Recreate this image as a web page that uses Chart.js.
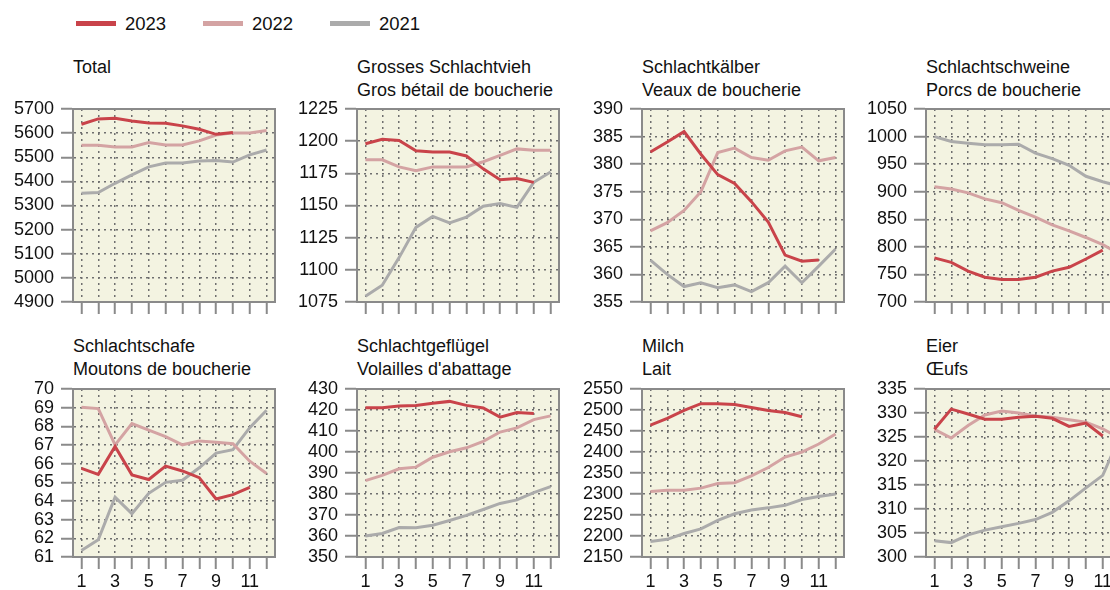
<!DOCTYPE html>
<html lang="de">
<head>
<meta charset="UTF-8">
<title>Schlachtvieh, Milch, Eier</title>
<script src="https://cdn.jsdelivr.net/npm/chart.js"></script>
<style>
  body {
    margin: 0;
    width: 1110px;
    height: 590px;
    overflow: hidden;
    position: relative;
    background: #fff;
    color: #111;
    font-family: "Liberation Sans", Arial, sans-serif;
  }
  .legend-item {
    position: absolute;
    top: 12px;
    height: 23px;
    display: flex;
    align-items: center;
    font-size: 18.5px;
  }
  .swatch {
    width: 40px;
    height: 5px;
    margin-right: 9px;
  }
  .title {
    position: absolute;
    font-size: 18px;
    line-height: 22.5px;
    white-space: nowrap;
  }
  canvas {
    position: absolute;
  }
</style>
</head>
<body>
<div class="legend-item" style="left:76px"><span class="swatch" style="background:#c9434a"></span>2023</div>
<div class="legend-item" style="left:203px"><span class="swatch" style="background:#d4a3a3"></span>2022</div>
<div class="legend-item" style="left:330px"><span class="swatch" style="background:#ababab"></span>2021</div>

<script>
  const months = ['1', '2', '3', '4', '5', '6', '7', '8', '9', '10', '11', '12'];
  const years = ['2023', '2022', '2021'];

  // Total
  const total2023 = [5637, 5659, 5662, 5650, 5642, 5641, 5630, 5616, 5595, 5603];
  const total2022 = [5550, 5550, 5543, 5543, 5561, 5551, 5551, 5568, 5592, 5601, 5601, 5611];
  const total2021 = [5351, 5354, 5392, 5427, 5460, 5476, 5476, 5484, 5487, 5480, 5510, 5530];
  const totalAxis = [4900, 5700, 100];

  // Grosses Schlachtvieh
  const gross2023 = [1198, 1201.5, 1200.5, 1192.5, 1191.5, 1191.5, 1188.5, 1178.5, 1170, 1171, 1168];
  const gross2022 = [1185.5, 1185.5, 1180, 1177, 1180, 1180, 1180, 1184, 1189, 1194, 1193, 1193];
  const gross2021 = [1079.5, 1088, 1109.5, 1133, 1141.5, 1136.5, 1141, 1149.5, 1151.5, 1148.5, 1168, 1176];
  const grossAxis = [1075, 1225, 25];

  // Schlachtkaelber
  const kalb2023 = [382.2, 384.0, 385.9, 381.8, 378.1, 376.5, 373.2, 369.5, 363.5, 362.4, 362.6];
  const kalb2022 = [367.9, 369.4, 371.6, 375.0, 382.1, 382.9, 381.2, 380.7, 382.4, 383.1, 380.6, 381.2];
  const kalb2021 = [362.6, 360.0, 357.8, 358.5, 357.6, 358.1, 356.9, 358.5, 361.5, 358.5, 361.5, 364.6];
  const kalbAxis = [355, 390, 5];

  // Schlachtschweine
  const schwein2023 = [780, 772, 756, 745, 741, 741, 745, 756, 763, 778, 794];
  const schwein2022 = [909, 905, 898, 887, 880, 866, 854, 840, 829, 817, 804, 787];
  const schwein2021 = [1000, 991, 988, 985, 985, 986, 970, 960, 948, 928, 918, 910];
  const schweinAxis = [700, 1050, 50];

  // Schlachtschafe
  const schaf2023 = [65.75, 65.43, 66.92, 65.40, 65.15, 65.87, 65.61, 65.25, 64.11, 64.34, 64.73];
  const schaf2022 = [69.02, 68.95, 67.01, 68.15, 67.80, 67.45, 67.01, 67.22, 67.15, 67.07, 66.13, 65.47];
  const schaf2021 = [61.35, 61.92, 64.2, 63.32, 64.41, 65.0, 65.11, 65.78, 66.57, 66.75, 67.93, 68.86];
  const schafAxis = [61, 70, 1];

  // Schlachtgefluegel
  const gefl2023 = [421.1, 421.1, 421.9, 422.2, 423.2, 424.1, 422.2, 421.0, 416.6, 418.8, 418.3];
  const gefl2022 = [386.4, 388.9, 392.0, 392.8, 397.5, 400.1, 402.0, 405.1, 409.5, 411.5, 415.4, 417.2];
  const gefl2021 = [360.0, 361.2, 364.0, 363.9, 365.1, 367.4, 369.8, 372.6, 375.5, 377.2, 380.7, 383.5];
  const geflAxis = [350, 430, 10];

  // Milch
  const milch2023 = [2464, 2480, 2499, 2515, 2515, 2513, 2506, 2499, 2494, 2484];
  const milch2022 = [2306, 2309, 2309, 2314, 2325, 2327, 2343, 2363, 2388, 2400, 2419, 2443];
  const milch2021 = [2187, 2192, 2206, 2217, 2237, 2253, 2262, 2267, 2273, 2287, 2294, 2300];
  const milchAxis = [2150, 2550, 50];

  // Eier
  const eier2023 = [326.6, 330.8, 329.8, 328.7, 328.7, 329.1, 329.3, 328.9, 327.2, 327.9, 325.2];
  const eier2022 = [326.6, 324.8, 327.4, 329.6, 330.4, 330.0, 329.4, 329.1, 328.6, 328.1, 326.7, 324.8];
  const eier2021 = [303.4, 303.0, 304.6, 305.6, 306.3, 307.0, 307.8, 309.3, 311.7, 314.4, 317.0, 325.0];
  const eierAxis = [300, 335, 5];

  const yearColors = ['#c9434a', '#d4a3a3', '#ababab'];
  const plotBg = '#f3f3e1';
  const frameColor = '#8a8a8a';
  const gridColor = '#6f6f6f';
  const fontFamily = '"Liberation Sans", Arial, sans-serif';

  const panels = [
    { title: ['Total'], series: [total2023, total2022, total2021], axis: totalAxis },
    { title: ['Grosses Schlachtvieh', 'Gros bétail de boucherie'], series: [gross2023, gross2022, gross2021], axis: grossAxis },
    { title: ['Schlachtkälber', 'Veaux de boucherie'], series: [kalb2023, kalb2022, kalb2021], axis: kalbAxis },
    { title: ['Schlachtschweine', 'Porcs de boucherie'], series: [schwein2023, schwein2022, schwein2021], axis: schweinAxis },
    { title: ['Schlachtschafe', 'Moutons de boucherie'], series: [schaf2023, schaf2022, schaf2021], axis: schafAxis },
    { title: ['Schlachtgeflügel', "Volailles d'abattage"], series: [gefl2023, gefl2022, gefl2021], axis: geflAxis },
    { title: ['Milch', 'Lait'], series: [milch2023, milch2022, milch2021], axis: milchAxis },
    { title: ['Eier', 'Œufs'], series: [eier2023, eier2022, eier2021], axis: eierAxis }
  ];

  // plot background and closed frame around the chart area
  const framePlugin = {
    id: 'frame',
    beforeDraw(chart) {
      const { ctx, chartArea: a } = chart;
      ctx.save();
      ctx.fillStyle = plotBg;
      ctx.fillRect(a.left, a.top, a.right - a.left, a.bottom - a.top);
      ctx.restore();
    },
    afterDraw(chart) {
      const { ctx, chartArea: a } = chart;
      ctx.save();
      ctx.strokeStyle = frameColor;
      ctx.lineWidth = 2;
      ctx.strokeRect(a.left, a.top, a.right - a.left, a.bottom - a.top);
      ctx.restore();
    }
  };

  const plotLefts = [73, 357, 642, 926];
  const plotWidth = 202;

  panels.forEach((p, i) => {
    const col = i % 4;
    const row = Math.floor(i / 4);
    const plotLeft = plotLefts[col];
    const plotTop = row === 0 ? 107 : 387;
    const plotH = row === 0 ? 197 : 170;
    const axisW = 72;
    const xAxisH = row === 0 ? 14 : 40;
    const padTop = 14;
    const padRight = 8;

    const title = document.createElement('div');
    title.className = 'title';
    title.style.left = plotLeft + 'px';
    title.style.top = (row === 0 ? 56 : 335) + 'px';
    title.innerHTML = p.title.join('<br>');
    document.body.appendChild(title);

    const canvas = document.createElement('canvas');
    canvas.width = axisW + plotWidth + padRight;
    canvas.height = padTop + plotH + xAxisH;
    canvas.style.left = (plotLeft - axisW) + 'px';
    canvas.style.top = (plotTop - padTop) + 'px';
    document.body.appendChild(canvas);

    new Chart(canvas, {
      type: 'line',
      data: {
        labels: months,
        datasets: p.series.map((values, k) => ({
          label: years[k],
          data: values,
          borderColor: yearColors[k],
          borderWidth: 3,
          pointRadius: 0,
          tension: 0,
          fill: false
        }))
      },
      options: {
        responsive: false,
        animation: false,
        devicePixelRatio: 1,
        layout: { padding: { top: padTop, right: padRight, left: 0, bottom: 0 } },
        plugins: {
          legend: { display: false },
          tooltip: { enabled: false }
        },
        scales: {
          x: {
            type: 'category',
            offset: true,
            afterFit: s => { s.height = xAxisH; },
            grid: {
              color: gridColor,
              lineWidth: 1.5,
              tickLength: 12,
              tickColor: frameColor,
              tickWidth: 2,
              tickBorderDash: []
            },
            border: { display: true, color: frameColor, width: 2, dash: [2, 4] },
            ticks: {
              display: row === 1,
              autoSkip: false,
              maxRotation: 0,
              padding: 2,
              color: '#111',
              font: { size: 18, family: fontFamily },
              callback: (v, idx) => (idx % 2 === 0 ? months[idx] : '')
            }
          },
          y: {
            min: p.axis[0],
            max: p.axis[1],
            afterFit: s => { s.width = axisW; },
            grid: {
              color: gridColor,
              lineWidth: 1.5,
              tickLength: 12,
              tickColor: frameColor,
              tickWidth: 2,
              tickBorderDash: []
            },
            border: { display: true, color: frameColor, width: 2, dash: [2, 4] },
            ticks: {
              stepSize: p.axis[2],
              autoSkip: false,
              padding: 7,
              color: '#111',
              font: { size: 18, family: fontFamily, lineHeight: 1 },
              callback: v => String(v)
            }
          }
        }
      },
      plugins: [framePlugin]
    });
  });
</script>
</body>
</html>
